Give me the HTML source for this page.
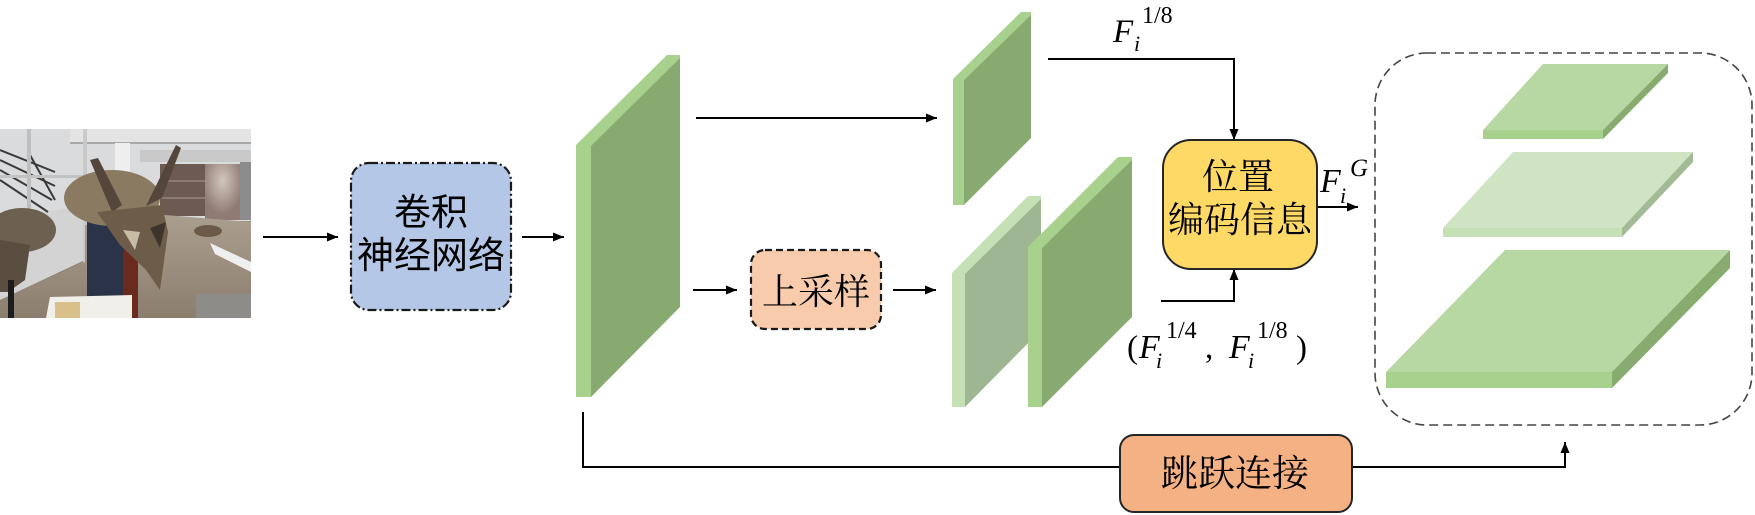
<!DOCTYPE html>
<html><head><meta charset="utf-8">
<style>
html,body{margin:0;padding:0;background:#fff;}
svg{display:block;}
.ss{font-family:"Liberation Sans","Noto Sans CJK SC",sans-serif;}
.sf{font-family:"Liberation Serif","Noto Serif CJK SC",serif;}
.m{font-family:"Liberation Serif",serif;font-style:italic;}
.n{font-family:"Liberation Serif",serif;}
</style></head><body>
<svg width="1755" height="515" viewBox="0 0 1755 515" xmlns="http://www.w3.org/2000/svg">
<defs>
<marker id="ah" markerWidth="11" markerHeight="9" refX="11" refY="4.5" orient="auto" markerUnits="userSpaceOnUse"><path d="M0,0 L11,4.5 L0,9 z" fill="#000"/></marker>
<clipPath id="pc"><rect x="0" y="129" width="251" height="189"/></clipPath>
<linearGradient id="fl" x1="0" y1="0" x2="0" y2="1">
<stop offset="0" stop-color="#aa9e8e"/><stop offset="1" stop-color="#8c7e6e"/></linearGradient>
<radialGradient id="door" cx="0.5" cy="0.3" r="0.6">
<stop offset="0" stop-color="#d2c6bd"/><stop offset="1" stop-color="#8f7b72"/></radialGradient>
</defs>

<!-- photo approximation -->
<g clip-path="url(#pc)">
<rect x="0" y="129" width="251" height="189" fill="url(#fl)"/>
<!-- upper bright interior -->
<rect x="0" y="129" width="251" height="92" fill="#dadbdd"/>
<polygon points="0,220 85,205 85,260 0,300" fill="#d3d3d3"/>
<rect x="70" y="129" width="181" height="14" fill="#e4e4e4"/>
<rect x="70" y="142" width="181" height="2" fill="#a9a9a9"/>
<rect x="115" y="143" width="15" height="55" fill="#eeeeee"/>
<g stroke="#3a3a3a" stroke-width="2">
<line x1="0" y1="150" x2="55" y2="172"/><line x1="0" y1="160" x2="55" y2="186"/>
<line x1="0" y1="170" x2="52" y2="200"/><line x1="0" y1="180" x2="48" y2="212"/>
<line x1="30" y1="155" x2="55" y2="200"/>
</g>
<rect x="27" y="129" width="4" height="100" fill="#bfbfbf"/>
<rect x="83" y="129" width="4" height="150" fill="#c9c9c9"/>
<rect x="0" y="175" width="85" height="3" fill="#c2c2c2"/>
<!-- right panels & door -->
<rect x="160" y="164" width="45" height="52" fill="#6d5a50"/>
<rect x="160" y="180" width="45" height="2" fill="#8a7a72"/>
<rect x="160" y="197" width="45" height="2" fill="#8a7a72"/>
<rect x="205" y="164" width="35" height="56" fill="url(#door)"/>
<rect x="240" y="160" width="11" height="60" fill="#8c8c8c"/>
<rect x="140" y="150" width="111" height="12" fill="#c9c9c9"/>
<!-- floor -->
<polygon points="0,300 85,262 85,225 165,215 251,222 251,318 0,318" fill="url(#fl)"/>
<!-- left skull -->
<ellipse cx="22" cy="230" rx="34" ry="22" fill="#6c6050"/>
<polygon points="0,240 30,245 25,280 8,292 0,292" fill="#5a4e40"/>
<rect x="8" y="280" width="6" height="38" fill="#1c1c1c"/>
<!-- pedestal -->
<rect x="87" y="218" width="38" height="82" fill="#2a3347"/>
<rect x="123" y="250" width="15" height="68" fill="#6a2a1d"/>
<!-- central skull -->
<ellipse cx="112" cy="198" rx="48" ry="28" fill="#8a7a62"/>
<polygon points="90,160 98,158 122,205 112,212" fill="#54463a"/>
<polygon points="176,145 181,148 162,198 146,206" fill="#54463a"/>
<polygon points="97,212 162,205 168,232 160,290 146,270 120,245" fill="#6d5d48"/>
<polygon points="150,228 166,222 160,248" fill="#3d342b"/>
<polygon points="123,230 140,232 135,250" fill="#c7bca5"/>
<!-- right small skull & sign -->
<ellipse cx="208" cy="231" rx="14" ry="6" fill="#6b5a47"/>
<polygon points="210,243 251,262 251,272 215,254" fill="#efefef"/>
<!-- placard & rock -->
<polygon points="50,297 132,295 132,318 46,318" fill="#f1efe9"/>
<rect x="55" y="302" width="25" height="16" fill="#d9c08a"/>
<rect x="196" y="294" width="55" height="24" fill="#8e8c88"/>
</g>

<!-- CNN box -->
<rect x="351" y="163" width="160" height="147" rx="18" fill="#b4c7e7" stroke="#1a1a1a" stroke-width="2.2" stroke-dasharray="9 3 2 3"/>
<text x="431" y="225" font-size="37" text-anchor="middle" class="ss">卷积</text>
<text x="431" y="268" font-size="37" text-anchor="middle" class="ss">神经网络</text>

<!-- arrows -->
<g stroke="#000" stroke-width="2" fill="none">
<line x1="263" y1="237" x2="338" y2="237" marker-end="url(#ah)"/>
<line x1="522" y1="237" x2="564" y2="237" marker-end="url(#ah)"/>
<line x1="696" y1="118" x2="937" y2="118" marker-end="url(#ah)"/>
<line x1="693" y1="290" x2="737" y2="290" marker-end="url(#ah)"/>
<line x1="893" y1="290" x2="936" y2="290" marker-end="url(#ah)"/>
<polyline points="1048,59 1234,59 1234,140" marker-end="url(#ah)"/>
<polyline points="1161,301 1234,301 1234,269" marker-end="url(#ah)"/>
<line x1="1317" y1="207" x2="1358" y2="207" marker-end="url(#ah)"/>
<polyline points="583,412 583,467 1120,467"/>
<polyline points="1352,467 1565,467 1565,442" marker-end="url(#ah)"/>
</g>

<!-- big feature map -->
<rect x="576" y="145" width="15" height="252" fill="#a9d18e"/>
<polygon points="576,145 667,55 680,55 680,60 591,147" fill="#a9d18e"/>
<polygon points="591,146 680,58 680,307 591,397" fill="#88a970"/>

<!-- F 1/8 map -->
<rect x="953" y="79" width="11" height="126" fill="#a9d18e"/>
<polygon points="953,79 1021,12 1031,12 1031,16 964,80" fill="#a9d18e"/>
<polygon points="964,80 1031,15 1031,138 964,205" fill="#88a970"/>

<!-- upsample box -->
<rect x="751" y="250" width="130" height="79" rx="14" fill="#f8cbad" stroke="#1a1a1a" stroke-width="2.2" stroke-dasharray="7 4"/>
<text x="816" y="304" font-size="36" text-anchor="middle" class="sf">上采样</text>

<!-- upsampled light map -->
<rect x="952" y="273" width="13" height="134" fill="#c5e0b4"/>
<polygon points="952,273 1028,196 1041,196 1041,200 965,274" fill="#c5e0b4"/>
<polygon points="965,274 1041,199 1041,330 965,407" fill="#9fb693"/>

<!-- second dark map -->
<rect x="1028" y="247" width="14" height="160" fill="#a9d18e"/>
<polygon points="1028,247 1118,157 1132,157 1132,161 1042,248" fill="#a9d18e"/>
<polygon points="1042,248 1132,160 1132,317 1042,407" fill="#88a970"/>

<!-- position box -->
<rect x="1163" y="140" width="154" height="129" rx="28" fill="#ffd966" stroke="#262626" stroke-width="2"/>
<text x="1238" y="189" font-size="36" text-anchor="middle" class="sf">位置</text>
<text x="1240" y="232" font-size="36" text-anchor="middle" class="sf">编码信息</text>

<!-- F^{1/8} -->
<text x="1113" y="42" font-size="33" class="m">F</text>
<text x="1134" y="51" font-size="22" class="m">i</text>
<text x="1142" y="23" font-size="24" class="n">1/8</text>

<!-- F^G -->
<text x="1320" y="192" font-size="34" class="m">F</text>
<text x="1340" y="203" font-size="22" class="m">i</text>
<text x="1350" y="176" font-size="25" class="m">G</text>

<!-- (F^1/4, F^1/8) -->
<text x="1127" y="358" font-size="33" class="n">(</text>
<text x="1139" y="358" font-size="34" class="m">F</text>
<text x="1156" y="368" font-size="22" class="m">i</text>
<text x="1166" y="338" font-size="24" class="n">1/4</text>
<text x="1205" y="358" font-size="33" class="n">,</text>
<text x="1229" y="358" font-size="34" class="m">F</text>
<text x="1248" y="368" font-size="22" class="m">i</text>
<text x="1257" y="338" font-size="24" class="n">1/8</text>
<text x="1296" y="358" font-size="33" class="n">)</text>

<!-- jump box -->
<rect x="1120" y="435" width="232" height="77" rx="14" fill="#f4b183" stroke="#262626" stroke-width="2"/>
<text x="1235" y="486" font-size="37" text-anchor="middle" class="sf">跳跃连接</text>

<!-- container -->
<rect x="1375" y="53" width="377" height="372" rx="52" fill="none" stroke="#444" stroke-width="1.6" stroke-dasharray="9 5"/>

<!-- top slab -->
<polygon points="1483,130 1543,64 1668,64 1603,130" fill="#b7d8a3"/>
<rect x="1483" y="130" width="120" height="9" fill="#a9d18e"/>
<polygon points="1603,130 1668,64 1668,73 1603,139" fill="#88ab70"/>

<!-- middle slab -->
<polygon points="1443,228 1513,152 1693,152 1622,228" fill="#cfe4c3"/>
<rect x="1443" y="228" width="179" height="9" fill="#c5e0b4"/>
<polygon points="1622,228 1693,152 1693,162 1622,237" fill="#a2bb95"/>

<!-- bottom slab -->
<polygon points="1386,372 1505,250 1730,250 1612,372" fill="#b7d8a3"/>
<rect x="1386" y="372" width="226" height="16" fill="#a9d18e"/>
<polygon points="1612,372 1730,250 1730,268 1612,388" fill="#88ab70"/>
</svg>
</body></html>
